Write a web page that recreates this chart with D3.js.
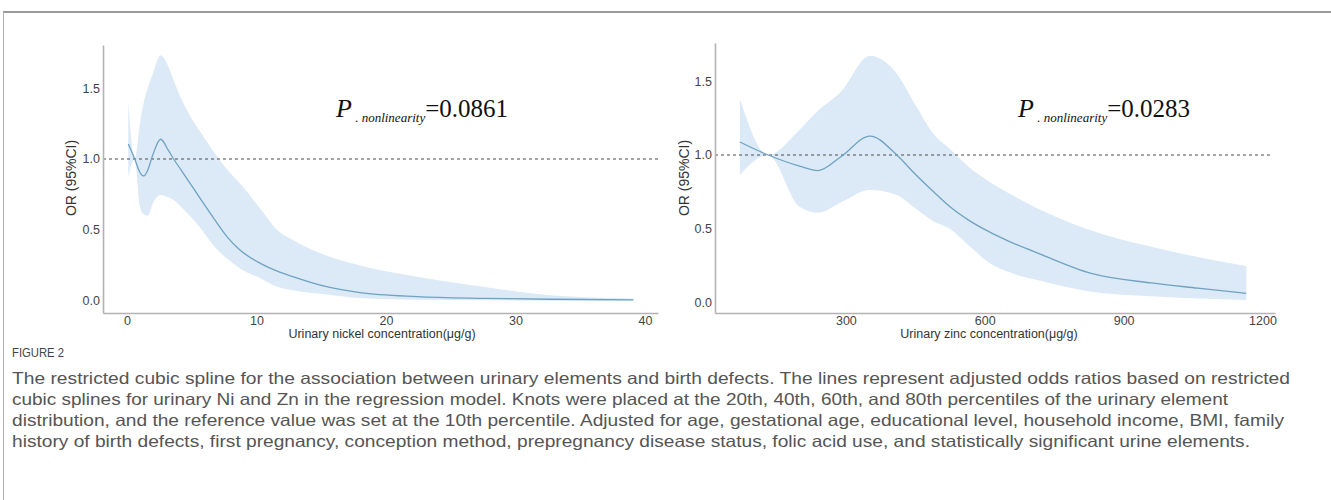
<!DOCTYPE html>
<html><head><meta charset="utf-8">
<script src="https://cdn.jsdelivr.net/npm/d3@7"></script>
<style>
html,body{margin:0;padding:0;background:#fff;}
svg{display:block;}
</style></head>
<body>
<svg id="chart" width="1331" height="500"></svg>
<script>
// ---------------- DATA ----------------
// Nickel panel (µg/g) -> OR with 95% CI
const niX   = [0.1, 0.6, 1.0, 1.3, 1.6, 2.0, 2.6, 3.2, 3.6, 4.2, 4.9, 5.6, 6.6, 7.7, 8.7, 10.3, 11.6, 12.8, 15.4, 18, 22.4, 27.5, 32.7, 39.1];
const niOR  = [1.106, 1.0, 0.905, 0.88, 0.92, 1.03, 1.139, 1.06, 1.0, 0.92, 0.825, 0.73, 0.595, 0.455, 0.36, 0.265, 0.21, 0.171, 0.10, 0.058, 0.03, 0.018, 0.012, 0.007];
const niHi  = [1.40, 1.0, 1.25, 1.40, 1.50, 1.60, 1.73, 1.65, 1.556, 1.42, 1.30, 1.20, 1.063, 0.93, 0.83, 0.65, 0.50, 0.43, 0.32, 0.25, 0.17, 0.10, 0.04, 0.018];
const niLo  = [0.875, 1.0, 0.664, 0.61, 0.60, 0.688, 0.746, 0.73, 0.711, 0.66, 0.594, 0.52, 0.40, 0.30, 0.23, 0.16, 0.10, 0.075, 0.045, 0.02, 0.008, 0.004, 0.002, 0.001];
const niTicks = [0, 10, 20, 30, 40];

// Zinc panel (µg/g) -> OR with 95% CI
const znX   = [71, 132, 200, 240, 290, 352, 410, 450, 490, 525, 565, 610, 650, 720, 830, 960, 1060, 1165];
const znOR  = [1.088, 1.0, 0.925, 0.895, 0.99, 1.128, 1.0, 0.87, 0.75, 0.65, 0.56, 0.48, 0.42, 0.33, 0.20, 0.135, 0.10, 0.065];
const znHi  = [1.38, 1.0, 1.17, 1.30, 1.43, 1.67, 1.55, 1.34, 1.14, 1.04, 0.92, 0.82, 0.745, 0.63, 0.49, 0.38, 0.31, 0.25];
const znLo  = [0.865, 1.0, 0.65, 0.61, 0.68, 0.763, 0.73, 0.64, 0.55, 0.50, 0.39, 0.27, 0.21, 0.15, 0.076, 0.045, 0.03, 0.02];
const znTicks = [300, 600, 900, 1200];

const yTicks = [0.0, 0.5, 1.0, 1.5];
const refOR = 1.0;
const pValues = ["0.0861", "0.0283"];
const xTitles = ["Urinary nickel concentration(\u03bcg/g)", "Urinary zinc concentration(\u03bcg/g)"];
const yTitle = "OR (95%CI)";
const figLabel = "FIGURE 2";
const captionLines = [
  "The restricted cubic spline for the association between urinary elements and birth defects. The lines represent adjusted odds ratios based on restricted",
  "cubic splines for urinary Ni and Zn in the regression model. Knots were placed at the 20th, 40th, 60th, and 80th percentiles of the urinary element",
  "distribution, and the reference value was set at the 10th percentile. Adjusted for age, gestational age, educational level, household income, BMI, family",
  "history of birth defects, first pregnancy, conception method, prepregnancy disease status, folic acid use, and statistically significant urine elements."
];

// ---------------- DRAW ----------------
const svg = d3.select("#chart");
const sans = "Liberation Sans, Arial, sans-serif";

// outer frame (top + left rules)
svg.append("line").attr("x1",3).attr("x2",1331).attr("y1",12).attr("y2",12)
  .attr("stroke","#9a9a9a").attr("stroke-width",2);
svg.append("line").attr("x1",3.5).attr("x2",3.5).attr("y1",12).attr("y2",500)
  .attr("stroke","#b0b0b0").attr("stroke-width",1);

const panels = [
  {x: niX, or: niOR, hi: niHi, lo: niLo, ticks: niTicks,
   xDom: [-1.85, 41.0], xRange: [103, 658], yDom: [-0.085, 1.803], yRange: [313, 45],
   refEnd: 660, yTitleX: 72, pX: 336, pVal: pValues[0], xTitle: xTitles[0], xTitleX: 382},
  {x: znX, or: znOR, hi: znHi, lo: znLo, ticks: znTicks,
   xDom: [17.3, 1227], xRange: [715, 1275], yDom: [-0.068, 1.757], yRange: [313, 43],
   refEnd: 1272, yTitleX: 685, pX: 1018, pVal: pValues[1], xTitle: xTitles[1], xTitleX: 989}
];

panels.forEach(p => {
  const x = d3.scaleLinear().domain(p.xDom).range(p.xRange);
  const y = d3.scaleLinear().domain(p.yDom).range(p.yRange);
  const g = svg.append("g");
  const pts = p.x.map((v,i)=>({x:v, or:p.or[i], hi:p.hi[i], lo:p.lo[i]}));

  // CI band
  g.append("path").datum(pts)
    .attr("d", d3.area().x(d=>x(d.x)).y0(d=>y(d.lo)).y1(d=>y(d.hi)).curve(d3.curveMonotoneX))
    .attr("fill","#dceaf7").attr("stroke","none");

  // reference line
  g.append("line").attr("x1",p.xRange[0]).attr("x2",p.refEnd)
    .attr("y1",y(refOR)).attr("y2",y(refOR))
    .attr("stroke","#4a4a4a").attr("stroke-width",1.2).attr("stroke-dasharray","3,3");

  // OR line
  g.append("path").datum(pts)
    .attr("d", d3.line().x(d=>x(d.x)).y(d=>y(d.or)).curve(d3.curveMonotoneX))
    .attr("fill","none").attr("stroke","#6fa2c2").attr("stroke-width",1.3);

  // axes
  const yAxis = g.append("g").attr("transform",`translate(${p.xRange[0]},0)`)
    .call(d3.axisLeft(y).tickValues(yTicks).tickFormat(d3.format(".1f")).tickSize(0).tickPadding(3));
  const xAxis = g.append("g").attr("transform",`translate(0,${p.yRange[0]})`)
    .call(d3.axisBottom(x).tickValues(p.ticks).tickFormat(d3.format("d")).tickSize(0).tickPadding(3));
  [yAxis, xAxis].forEach(a => {
    a.select(".domain").attr("stroke","#b3b3b3").attr("stroke-width",1.6);
    a.selectAll("text").attr("fill","#444").attr("font-family",sans).attr("font-size","12.5px");
  });

  // axis titles
  g.append("text").attr("transform",`translate(${p.yTitleX},178) rotate(-90)`)
    .attr("text-anchor","middle").attr("dominant-baseline","middle")
    .attr("font-family",sans).attr("font-size","14px").attr("fill","#333")
    .text(yTitle);
  g.append("text").attr("x",p.xTitleX).attr("y",335)
    .attr("text-anchor","middle").attr("dominant-baseline","middle")
    .attr("font-family",sans).attr("font-size","12.5px").attr("fill","#333")
    .text(p.xTitle);

  // P nonlinearity annotation
  const t = g.append("text").attr("x",p.pX).attr("y",117)
    .attr("font-family","Liberation Serif, Times New Roman, serif").attr("fill","#111");
  t.append("tspan").attr("font-size","26px").attr("font-style","italic").text("P");
  t.append("tspan").attr("font-size","13px").attr("font-style","italic").attr("dy",5).text(" . nonlinearity");
  t.append("tspan").attr("font-size","25px").attr("dy",-5).text("=" + p.pVal);
});

// caption
svg.append("text").attr("x",12).attr("y",357)
  .attr("font-family","Liberation Sans Narrow, Liberation Sans, Arial, sans-serif")
  .attr("font-size","13px").attr("fill","#444").attr("textLength",52).attr("lengthAdjust","spacingAndGlyphs")
  .text(figLabel);
const capLen = [1278, 1216, 1272, 1238];
svg.selectAll("text.cap").data(captionLines).enter().append("text").attr("class","cap")
  .attr("x",12).attr("y",(d,i)=>384 + i*21)
  .attr("font-family","Liberation Sans Narrow, Liberation Sans, Arial, sans-serif")
  .attr("font-size","16.5px").attr("fill","#555")
  .attr("textLength",(d,i)=>capLen[i]).attr("lengthAdjust","spacingAndGlyphs")
  .text(d=>d);
</script>
</body></html>
